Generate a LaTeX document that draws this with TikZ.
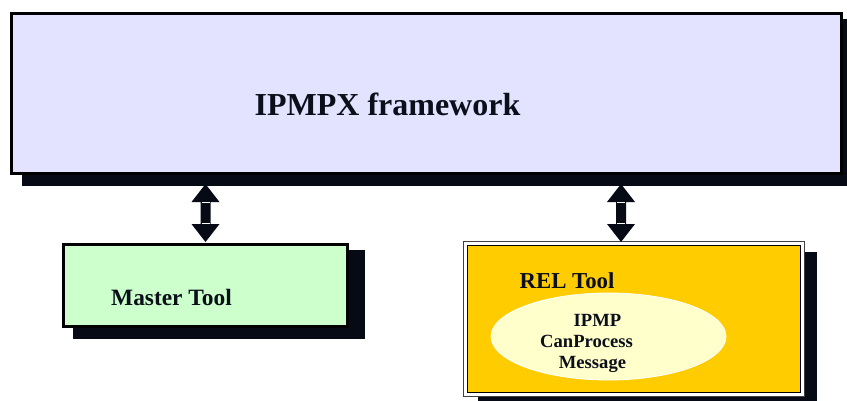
\documentclass[tikz,border=0pt]{standalone}
\usepackage{fontspec}
\setmainfont{Liberation Serif}
\usetikzlibrary{calc,shapes.geometric}
\definecolor{ink}{HTML}{0B0F1A}
\definecolor{shade}{HTML}{050A15}
\definecolor{fwfill}{HTML}{E3E3FF}
\definecolor{masterfill}{HTML}{CCFFCC}
\definecolor{relfill}{HTML}{FFCC00}
\definecolor{ovalfill}{HTML}{FFFFCC}
\tikzset{
  x=1pt, y=-1pt,
  shadowbox/.style={fill=shade},
  toolbox/.style={rectangle, draw=black, line width=2.6pt, inner sep=0pt},
  label/.style={font=\bfseries, text=ink, anchor=base, inner sep=0pt},
  linkfill/.style={fill=shade},
  seam/.style={draw=white, line width=1pt},
}
% double-headed block arrow between two named points (top, bottom)
\newcommand{\fatlink}[2]{%
  \fill[linkfill] (#1) -- ++(14,18) -- ++(-9,0) -- ++(0,22) -- ++(9,0)
    -- (#2) -- ++(-14,-18) -- ++(9,0) -- ++(0,-22) -- ++(-9,0) -- cycle;
  \draw[seam] ($(#1)+(-4,18.5)$) -- ++(8,0);
  \draw[seam] ($(#2)+(-4,-18.5)$) -- ++(8,0);
}
\begin{document}
\begin{tikzpicture}
\useasboundingbox (0,0) rectangle (847,400);
\clip (0,0) rectangle (847,400);

% shadows
\fill[shadowbox] (22,19) rectangle (860,186);
\fill[shadowbox] (73,250) rectangle (365,339);
\fill[shadowbox] (478,252) rectangle (817,410);

% framework box
\node[toolbox, line width=3pt, fill=fwfill, minimum width=830pt, minimum height=160pt]
  (fw) at (426.5,93.5) {};
\node[label, font=\fontsize{32}{38}\selectfont\bfseries] (fwtext) at (387.5,115) {IPMPX framework};

% master tool
\node[toolbox, fill=masterfill, minimum width=284pt, minimum height=82pt]
  (master) at (205.5,285.5) {};
\node[label, font=\fontsize{23.4}{28}\selectfont\bfseries] (mastertext) at (171.5,305) {Master Tool};

% REL tool with double frame
\node[rectangle, draw=black!75, line width=1.3pt, fill=white, minimum width=340.5pt, minimum height=154.5pt]
  (relframe) at (634,319) {};
\node[rectangle, draw=black, line width=1.5pt, fill=relfill, minimum width=333pt, minimum height=147pt]
  (rel) at (634,319) {};
\node[label, font=\fontsize{22.8}{28}\selectfont\bfseries] (reltext) at (567,288) {REL Tool};

% message oval
\node[ellipse, draw=white, line width=0.8pt, fill=ovalfill, minimum width=235pt, minimum height=87pt, inner sep=0pt]
  (oval) at (608.5,336.5) {};
\node[label, font=\fontsize{18.6}{22}\selectfont\bfseries] (l1) at (597.5,326) {IPMP};
\node[label, font=\fontsize{18.6}{22}\selectfont\bfseries] (l2) at (586.5,347) {CanProcess};
\node[label, font=\fontsize{18.6}{22}\selectfont\bfseries] (l3) at (592.5,368) {Message};

% links
\coordinate (mtop) at (205.5,184);
\coordinate (mbot) at (205.5,242);
\coordinate (rtop) at (621,184);
\coordinate (rbot) at (621,242);
\fatlink{mtop}{mbot}
\fatlink{rtop}{rbot}
\end{tikzpicture}
\end{document}
